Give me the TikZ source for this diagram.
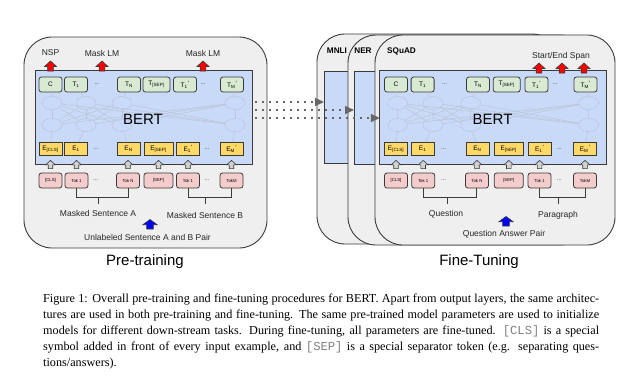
\documentclass[tikz,border=0pt]{standalone}
\usepackage{fontspec}
\setmainfont{Liberation Serif}
\setsansfont{Liberation Sans}
\setmonofont{Liberation Mono}
\usepackage{tikz}
\usetikzlibrary{arrows.meta,shapes.geometric}

\definecolor{bertblue}{HTML}{C9DAF8}
\definecolor{outgreen}{HTML}{D9EAD3}
\definecolor{embyellow}{HTML}{FFD966}
\definecolor{tokpink}{HTML}{F4CCCC}
\definecolor{panelgray}{HTML}{EFEFEF}
\definecolor{edgegray}{HTML}{3A3A3A}
\definecolor{netgray}{HTML}{B9C4D8}

\tikzset{
  blockup/.pic={\path[pic actions] (-2.8,0) -- (-2.8,-4.5) -- (-6,-4.5) -- (0,-10)
    -- (6,-4.5) -- (2.8,-4.5) -- (2.8,0) -- cycle;}
}
\newcommand{\prm}{\hspace{0.3pt}\raisebox{2pt}{\fontsize{6}{6}\selectfont'}}

% one BERT block: box, faint layers, output / embedding / token rows
\newcommand{\bertblock}[1]{%
  \draw[bertbox] (35,70) rectangle (252,164);
  \coordinate (#1boxw) at (35,117);
  \foreach \k/\x in {0/52,1/86,2/122,3/235}{%
    \node[netcirc] (#1u\k) at (\x,103) {};
    \node[netcirc] (#1d\k) at (\x,125) {};
  }
  \node[netdots] (#1nda) at (177,108) {...};
  \node[netdots] (#1ndb) at (177,128) {...};
  % outputs
  \node[tnode] (#1t0) at (50.5,84.5) {C};
  \node[tnode] (#1t1) at (76,84.5) {T\textsubscript{1}};
  \node[rowdots] (#1tda) at (97,84.5) {...};
  \node[tnode] (#1t2) at (129,84.5) {T\textsubscript{N}};
  \node[tnode,minimum width=27pt] (#1t3) at (156.5,84.5) {T\textsubscript{[SEP]}};
  \node[tnode] (#1t4) at (185,84.5) {T\textsubscript{1}\prm};
  \node[rowdots] (#1tdb) at (203,84.5) {...};
  \node[tnode] (#1t5) at (232,84.5) {T\textsubscript{M}\prm};
  % embeddings
  \node[enode] (#1e0) at (50.5,149) {E\textsubscript{[CLS]}};
  \node[enode] (#1e1) at (76,149) {E\textsubscript{1}};
  \node[rowdots] (#1eda) at (96,149) {...};
  \node[enode] (#1e2) at (128.5,149) {E\textsubscript{N}};
  \node[enode,minimum width=29pt] (#1e3) at (158.5,149) {E\textsubscript{[SEP]}};
  \node[enode] (#1e4) at (188,149) {E\textsubscript{1}\prm};
  \node[rowdots] (#1edb) at (207,149) {...};
  \node[enode] (#1e5) at (231.5,149) {E\textsubscript{M}\prm};
  % input tokens
  \node[toknode] (#1k0) at (50.5,180.5) {[CLS]};
  \node[toknode] (#1k1) at (76.5,180.5) {Tok 1};
  \node[rowdots] (#1kda) at (96,180.5) {...};
  \node[toknode] (#1k2) at (128,180.5) {Tok N};
  \node[toknode,minimum width=29pt] (#1k3) at (158.5,180.5) {[SEP]};
  \node[toknode] (#1k4) at (188,180.5) {Tok 1};
  \node[rowdots] (#1kdb) at (207,180.5) {...};
  \node[toknode] (#1k5) at (231.5,180.5) {TokM};
  \foreach \a in {0,...,3}{\foreach \b in {0,...,3}{\draw[netline] (#1u\a) -- (#1d\b);}}
  \foreach \a/\b in {0/0,1/1,2/2,3/5}{%
    \draw[netline] (#1t\b) -- (#1u\a);
    \draw[netline] (#1d\a) -- (#1e\b);
  }
  \node[bertlbl] (#1bert) at (143,119) {BERT};
  \foreach \i in {0,...,5}{\pic[grayup] at ([yshift=4pt]#1k\i.north) {blockup};}
}

\begin{document}
\begin{tikzpicture}[x=1pt,y=-1pt,
  every node/.style={font=\sffamily},
  panel/.style={draw=edgegray,fill=panelgray,line width=0.9pt,rounded corners=28pt},
  bertbox/.style={draw=edgegray,fill=bertblue,line width=0.9pt,inner sep=0pt},
  netcirc/.style={ellipse,draw=netgray,line width=0.5pt,minimum width=20pt,minimum height=13pt,inner sep=0pt},
  netline/.style={draw=netgray,line width=0.5pt},
  netdots/.style={text=netgray,font=\sffamily\fontsize{6}{7}\selectfont},
  rowdots/.style={text=black!80,font=\sffamily\fontsize{6}{7}\selectfont},
  tnode/.style={draw=edgegray,fill=outgreen,rounded corners=2.5pt,line width=0.8pt,
    minimum width=23pt,minimum height=15pt,inner sep=0pt,font=\sffamily\fontsize{6.5}{7}\selectfont},
  enode/.style={draw=edgegray,fill=embyellow,line width=0.8pt,
    minimum width=23pt,minimum height=13pt,inner sep=0pt,font=\sffamily\fontsize{6.5}{7}\selectfont},
  toknode/.style={draw=edgegray,fill=tokpink,rounded corners=2.5pt,line width=0.8pt,
    minimum width=23pt,minimum height=15pt,inner sep=0pt,font=\sffamily\fontsize{4.3}{5}\selectfont},
  bertlbl/.style={font=\sffamily\fontsize{15}{18}\selectfont},
  lbl/.style={text=black!85,font=\sffamily\fontsize{8.5}{10}\selectfont},
  task/.style={font=\sffamily\bfseries\fontsize{8.2}{10}\selectfont},
  title/.style={font=\sffamily\fontsize{15}{18}\selectfont},
  bracket/.style={draw=edgegray,line width=0.9pt},
  redup/.style={fill=red,draw=edgegray,line width=0.6pt},
  blueup/.style={fill=blue,draw=edgegray,line width=0.6pt,xscale=1.2,yscale=0.95},
  grayup/.style={fill=gray!35,draw=edgegray,line width=0.6pt,scale=0.82},
  dotarrow/.style={draw=black!60,line width=1.5pt,dash pattern=on 1.5pt off 5.5pt,
    -{Triangle[length=9pt,width=8pt]}}]
  \useasboundingbox (0,0) rectangle (635,384);

  % pre-training panel
  \draw[panel] (24,37) rectangle (267,248);
  \bertblock{L}
  \node[lbl] (nsp) at (50.5,53) {NSP};
  \node[lbl] (mlma) at (102,53) {Mask LM};
  \node[lbl] (mlmb) at (203,53) {Mask LM};
  \foreach \x in {50.5,102,203}{\pic[redup] at (\x,71) {blockup};}
  \draw[bracket] (Lk1.south) -- ++(0,9) -| (Lk2.south);
  \draw[bracket] (Lk4.south) -- ++(0,9) -| (Lk5.south);
  \coordinate (brA) at (98,197);
  \coordinate (brB) at (205,197);
  \node[lbl] (sentA) at (98,213) {Masked Sentence A};
  \node[lbl] (sentB) at (205,215) {Masked Sentence B};
  \draw[bracket] (brA) -- ++(0,7);
  \draw[bracket] (brB) -- ++(0,7);
  \pic[blueup] at (150,229) {blockup};
  \node[lbl] (pairA) at (147.5,237) {Unlabeled Sentence A and B Pair};
  \node[title] (pre) at (145,262) {Pre-training};

  % fine-tuning panels
  \draw[panel] (317,34) rectangle (560,244);
  \node[bertbox,minimum width=28pt,minimum height=92pt,anchor=north west] (mnlibox) at (324,71) {};
  \node[task] (mnli) at (337,51) {MNLI};
  \draw[panel] (348,35) rectangle (588,245);
  \node[bertbox,minimum width=27pt,minimum height=93pt,anchor=north west] (nerbox) at (354,71) {};
  \node[task] (ner) at (363,51) {NER};
  \draw[panel] (375,35) rectangle (615,245);
  \node[task] (squad) at (401.5,51) {SQuAD};
  \begin{scope}[shift={(343.3,0)},xscale=1.044]
    \bertblock{R}
  \end{scope}
  \node[lbl] (span) at (561,56) {Start/End Span};
  \foreach \x in {539,562,584}{\pic[redup] at (\x,73) {blockup};}
  \draw[bracket] (Rk1.south) -- ++(0,9) -| (Rk2.south);
  \draw[bracket] (Rk4.south) -- ++(0,9) -| (Rk5.south);
  \coordinate (brQ) at (447,197);
  \coordinate (brP) at (558,197);
  \node[lbl] (quest) at (446,214) {Question};
  \node[lbl] (para) at (558,215) {Paragraph};
  \draw[bracket] (brQ) -- ++(0,7);
  \draw[bracket] (brP) -- ++(0,7);
  \pic[blueup] at (506,226) {blockup};
  \node[lbl] (qapair) at (504,234) {Question Answer Pair};
  \node[title] (fine) at (479,262) {Fine-Tuning};

  % dotted hand-over arrows
  \coordinate (src1) at (255,102);
  \coordinate (src2) at (255,110);
  \coordinate (src3) at (255,118);
  \draw[dotarrow] (src1) -- (src1 -| mnlibox.west);
  \draw[dotarrow] (src2) -- (src2 -| nerbox.west);
  \draw[dotarrow] (src3) -- (src3 -| Rboxw);

  % caption
  \node[anchor=north west,inner sep=0pt,text width=556pt,align=justify,
    font=\rmfamily\fontsize{12.2}{16}\selectfont] (caption) at (43,294)
    {Figure 1: Overall pre-training and fine-tuning procedures for BERT. Apart from output layers, the same architec-\linebreak
    tures are used in both pre-training and fine-tuning. The same pre-trained model parameters are used to initialize\linebreak
    models for different down-stream tasks. During fine-tuning, all parameters are fine-tuned. {\color{gray}\ttfamily [CLS]} is a special\linebreak
    symbol added in front of every input example, and {\color{gray}\ttfamily [SEP]} is a special separator token (e.g. separating ques-\linebreak
    tions/answers).};
\end{tikzpicture}
\end{document}
